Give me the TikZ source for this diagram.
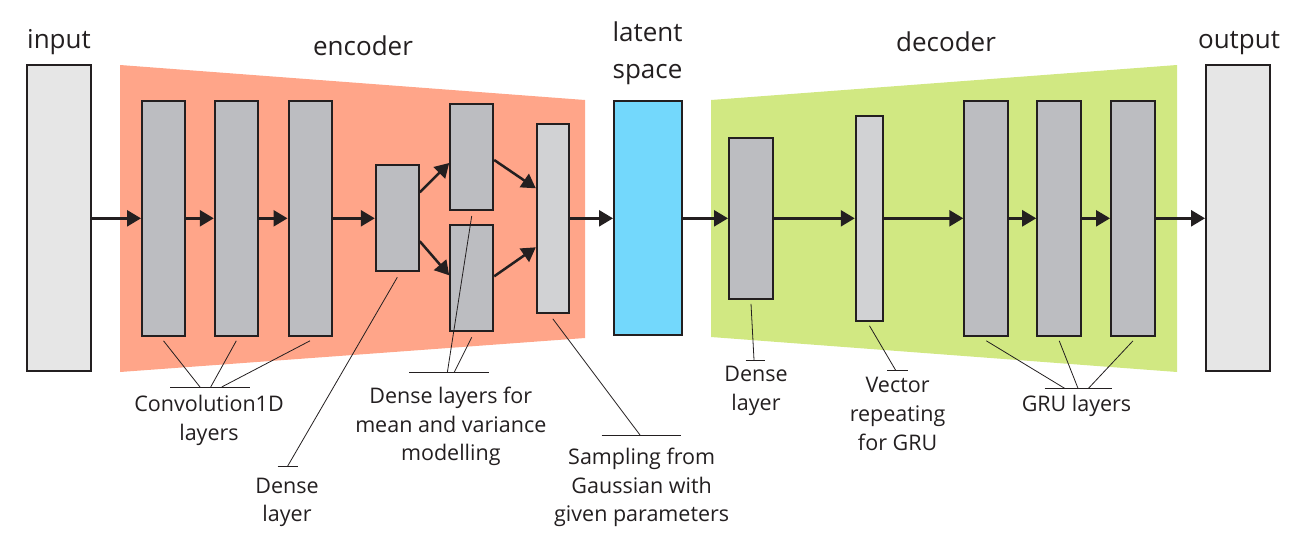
\documentclass[tikz,border=0pt]{standalone}
\usepackage{fontspec}
\setmainfont{Open Sans}
\usetikzlibrary{arrows.meta}
\definecolor{inkc}{HTML}{231F20}
\definecolor{encfill}{HTML}{FFA589}
\definecolor{decfill}{HTML}{D1E882}
\definecolor{laygray}{HTML}{BCBDC1}
\definecolor{laylight}{HTML}{D1D2D4}
\definecolor{iofill}{HTML}{E6E6E6}
\definecolor{latfill}{HTML}{73D8FC}
\begin{document}
\begin{tikzpicture}[x=1pt,y=-1pt,
    layer/.style={draw=inkc,line width=2pt,fill=laygray,inner sep=0pt},
    flow/.style={draw=inkc,line width=2.5pt,-{Triangle[length=14pt,width=16pt]}},
    lead/.style={draw=inkc,line width=0.8pt},
    note/.style={text=inkc,align=center,anchor=base,font=\fontsize{21.5}{28.7}\selectfont},
    title/.style={text=inkc,align=center,anchor=base,font=\fontsize{26}{36.6}\selectfont}]
            \useasboundingbox (0,0) rectangle (1308,544);
            \def\cy{218.3}
            % encoder and decoder areas
            \fill[encfill] (120,65)--(585,100)--(585,338)--(120,372)--cycle;
            \fill[decfill] (711,100)--(1177,65)--(1177,372)--(711,337)--cycle;
            \node[title] (tin) at (59,48.3) {input};
            \node[title] (tenc) at (363,55) {encoder};
            \node[title] (tlat) at (647.5,78.3) {latent\\space};
            \node[title] (tdec) at (946,51.7) {decoder};
            \node[title] (tout) at (1239,48.3) {output};
            % layers
            \node[layer,fill=iofill,minimum width=64pt,minimum height=306pt] (in) at (58.5,\cy) {};
            \foreach \n/\x in {1/163.5,2/236.3,3/310}
                {\node[layer,minimum width=43pt,minimum height=235pt] (c\n) at (\x,\cy) {};}
            \node[layer,minimum width=43pt,minimum height=106pt] (ed) at (397.3,\cy) {};
            \node[layer,minimum width=43pt,minimum height=106pt] (mu) at (471.7,157) {};
            \node[layer,minimum width=43pt,minimum height=106pt] (va) at (471.7,278.3) {};
            \node[layer,fill=laylight,minimum width=32pt,minimum height=189pt] (sa) at (552.8,\cy) {};
            \node[layer,fill=latfill,minimum width=68pt,minimum height=234pt] (lat) at (648,\cy) {};
            \node[layer,minimum width=44pt,minimum height=161pt] (dd) at (751,\cy) {};
            \node[layer,fill=laylight,minimum width=27.5pt,minimum height=205pt] (rep) at (869.5,\cy) {};
            \foreach \n/\x in {1/986.3,2/1059.2,3/1133}
                {\node[layer,minimum width=44pt,minimum height=235pt] (g\n) at (\x,\cy) {};}
            \node[layer,fill=iofill,minimum width=64pt,minimum height=306pt] (out) at (1238,\cy) {};
            % data flow
            \foreach \a/\b in {in/c1,c1/c2,c2/c3,c3/ed,sa/lat,lat/dd,dd/rep,rep/g1,g1/g2,g2/g3,g3/out}
                {\draw[flow] (\a)--(\b);}
            \draw[flow] ([yshift=26pt]ed.east)--([yshift=-6pt]mu.west);
            \draw[flow] ([yshift=-23pt]ed.east)--([yshift=3pt]va.west);
            \draw[flow] ([yshift=-3pt]mu.east)--([yshift=30pt]sa.west);
            \draw[flow] ([yshift=2pt]va.east)--([yshift=-29pt]sa.west);
            % labels with leader lines
            \coordinate (bcv) at (170,387);
            \draw[lead] (bcv)--++(80,0);
            \foreach \n/\d in {1/30,2/40.7,3/51.7}
                {\draw[lead] ([yshift=-4pt]c\n.south)--([xshift=\d pt]bcv);}
            \node[note] (ncv) at (209,440) {Convolution1D\\layers};
            \coordinate (bed) at (277.7,466.7);
            \draw[lead] (bed)--++(20,0);
            \draw[lead] ([yshift=-5pt]ed.south)--([xshift=9.6pt]bed);
            \node[note] (ned) at (287,521.7) {Dense\\layer};
            \coordinate (bmv) at (409.3,372.7);
            \draw[lead] (bmv)--++(80,0);
            \draw[lead] ([yshift=-5pt]mu.south)--([xshift=38pt]bmv);
            \draw[lead] ([yshift=-5pt]va.south)--([xshift=44.7pt]bmv);
            \node[note] (nmv) at (450.8,460.7) {Dense layers for\\mean and variance\\modelling};
            \coordinate (bsa) at (601.7,435);
            \draw[lead] (bsa)--++(79,0);
            \draw[lead] ([yshift=-5pt]sa.south)--([xshift=38.3pt]bsa);
            \node[note] (nsa) at (641.7,521.7) {Sampling from\\Gaussian with\\given parameters};
            \coordinate (bdd) at (745.7,360);
            \draw[lead] (bdd)--++(19.7,0);
            \draw[lead] ([yshift=-4pt]dd.south)--([xshift=8.3pt]bdd);
            \node[note] (ndd) at (756,410.5) {Dense\\layer};
            \coordinate (brp) at (887,370);
            \draw[lead] (brp)--++(21,0);
            \draw[lead] ([yshift=-4pt]rep.south)--([xshift=8.5pt]brp);
            \node[note] (nrp) at (897.6,450) {Vector\\repeating\\for GRU};
            \coordinate (bgr) at (1044.5,388.3);
            \draw[lead] (bgr)--++(67.1,0);
            \foreach \n/\d in {1/20.1,2/33.5,3/44}
                {\draw[lead] ([yshift=-4pt]g\n.south)--([xshift=\d pt]bgr);}
            \node[note] (ngr) at (1076.5,411.7) {GRU layers};
\end{tikzpicture}
\end{document}
